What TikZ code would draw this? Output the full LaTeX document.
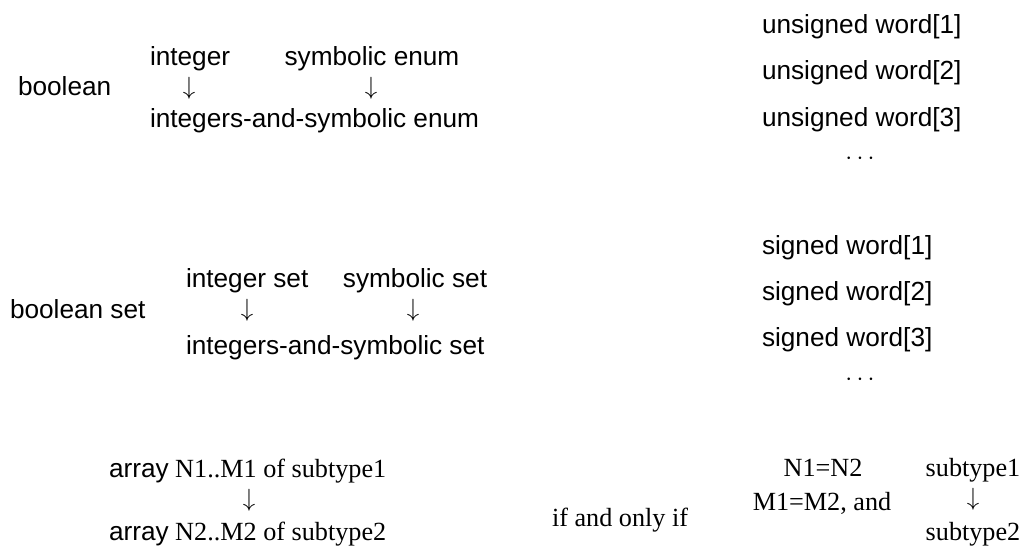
\documentclass[tikz,border=0pt]{standalone}
\usepackage{fontspec}
\setmainfont{Liberation Serif}
\newfontfamily\helv{Liberation Sans}
\begin{document}
\begin{tikzpicture}[x=1pt,y=-1pt,
  every node/.style={inner sep=0pt,outer sep=0pt,font=\fontsize{26.2}{31}\selectfont},
  sans/.style={font=\fontsize{26.2}{31}\selectfont\helv},
  serif/.style={font=\fontsize{26.2}{31}\selectfont},
  arr/.style={font=\fontsize{26.2}{31}\selectfont, anchor=center}]
\useasboundingbox (0,0) rectangle (1025,546);
% top group
\node[sans,anchor=base west] (bool) at (18,95) {boolean};
\node[sans,anchor=base west] (int) at (150,65) {integer};
\node[sans,anchor=base] (sym) at (372,65) {symbolic enum};
\node[arr] (a1) at (189,88) {$\downarrow$};
\node[arr] (a2) at (371,88) {$\downarrow$};
\node[sans,anchor=base west] (ise) at (150,127) {integers-and-symbolic enum};
% unsigned words
\node[sans,anchor=base west] (u1) at (762,33) {unsigned word[1]};
\node[sans,anchor=base west] (u2) at (762,79) {unsigned word[2]};
\node[sans,anchor=base west] (u3) at (762,126) {unsigned word[3]};
\node[anchor=base] (ud) at (860,164) {$\cdots$};
% set group
\node[sans,anchor=base west] (bs) at (10,318) {boolean set};
\node[sans,anchor=base west] (is) at (186,287) {integer set};
\node[sans,anchor=base] (ss) at (415,287) {symbolic set};
\node[arr] (a3) at (247,310) {$\downarrow$};
\node[arr] (a4) at (413,310) {$\downarrow$};
\node[sans,anchor=base west] (iss) at (186,354) {integers-and-symbolic set};
% signed words
\node[sans,anchor=base west] (s1) at (762,254) {signed word[1]};
\node[sans,anchor=base west] (s2) at (762,300) {signed word[2]};
\node[sans,anchor=base west] (s3) at (762,346) {signed word[3]};
\node[anchor=base] (sd) at (860,385) {$\cdots$};
% array
\node[anchor=base west] (ar1) at (109,477) {{\helv array} N1..M1 of subtype1};
\node[arr] (a5) at (249,500) {$\downarrow$};
\node[anchor=base west] (ar2) at (109,540) {{\helv array} N2..M2 of subtype2};
\node[serif,anchor=base west] (iff) at (552,526) {if and only if};
\node[serif,anchor=base] (nn) at (823,476) {N1=N2};
\node[serif,anchor=base] (mm) at (822,510) {M1=M2, and};
\node[serif,anchor=base] (st1) at (973,476) {subtype1};
\node[arr] (a6) at (973,499) {$\downarrow$};
\node[serif,anchor=base] (st2) at (973,540) {subtype2};
\end{tikzpicture}
\end{document}
